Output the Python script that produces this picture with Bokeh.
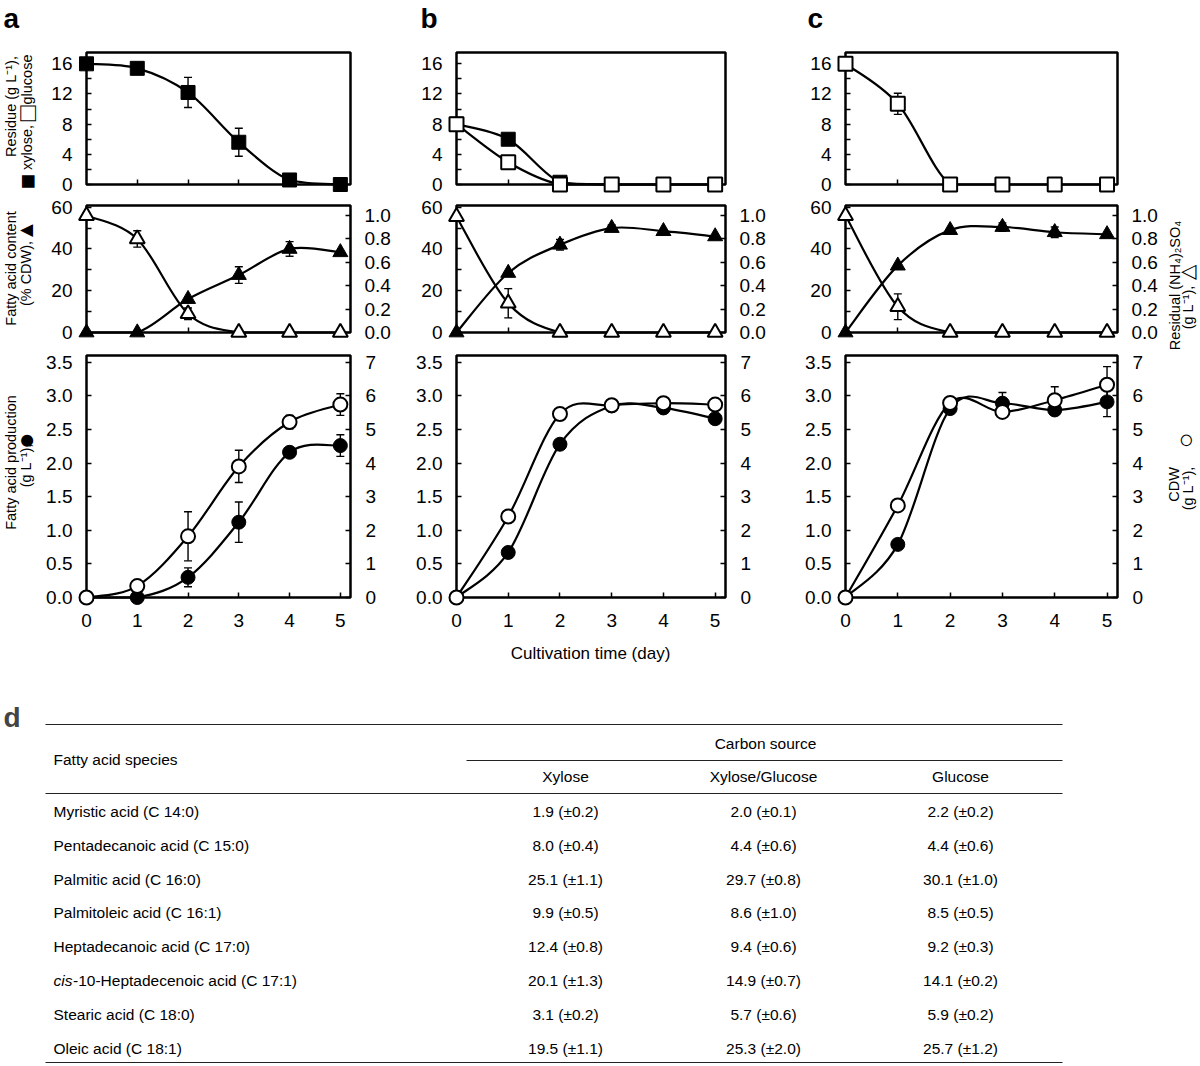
import math
from bokeh.plotting import figure
from bokeh.models import (Range1d, LinearAxis, FixedTicker, NumeralTickFormatter,
                          BoxAnnotation, Label)
from bokeh.layouts import column, row
from bokeh.embed import file_html
from bokeh.resources import INLINE
from bokeh.core.properties import value

FONT = "Liberation Sans"

# ---------------- data ----------------
days = [0, 1, 2, 3, 4, 5]

# residual sugars (g/L)
xylose_a = [16.0, 15.4, 12.2, 5.6, 0.6, 0.0]
xylose_a_err = [0, 0, 2.0, 1.85, 0, 0]
xylose_b = [8.0, 6.0, 0.3, 0.0, 0.0, 0.0]
xylose_b_err = [0, 0, 0, 0, 0, 0]
glucose_b = [8.0, 2.95, 0.0, 0.0, 0.0, 0.0]
glucose_b_err = [0, 0, 0, 0, 0, 0]
glucose_c = [16.0, 10.7, 0.0, 0.0, 0.0, 0.0]
glucose_c_err = [0, 1.4, 0, 0, 0, 0]

# fatty acid content (% CDW)
fac_a = [0.0, 0.0, 16.0, 27.5, 40.0, 38.4]
fac_a_err = [0, 0, 0, 4.0, 3.5, 0]
fac_b = [0.0, 28.5, 42.0, 50.0, 48.5, 46.0]
fac_b_err = [0, 0, 2.5, 1.5, 0, 0]
fac_c = [0.0, 32.0, 49.0, 50.5, 48.0, 47.0]
fac_c_err = [0, 0, 0, 2.0, 2.5, 0]

# residual (NH4)2SO4 (g/L)
nh4_a = [1.00, 0.80, 0.16, 0.0, 0.0, 0.0]
nh4_a_err = [0, 0.07, 0.05, 0, 0, 0]
nh4_b = [0.99, 0.25, 0.0, 0.0, 0.0, 0.0]
nh4_b_err = [0, 0.125, 0, 0, 0, 0]
nh4_c = [1.00, 0.22, 0.0, 0.0, 0.0, 0.0]
nh4_c_err = [0, 0.11, 0, 0, 0, 0]

# fatty acid production (g/L)
fap_a = [0.0, 0.0, 0.30, 1.12, 2.16, 2.26]
fap_a_err = [0, 0, 0.14, 0.30, 0, 0.16]
fap_b = [0.0, 0.67, 2.28, 2.85, 2.82, 2.66]
fap_b_err = [0, 0, 0, 0, 0, 0.07]
fap_c = [0.0, 0.79, 2.81, 2.89, 2.79, 2.91]
fap_c_err = [0, 0, 0, 0.16, 0, 0.22]

# CDW (g/L)
cdw_a = [0.0, 0.34, 1.82, 3.90, 5.22, 5.74]
cdw_a_err = [0, 0, 0.73, 0.48, 0.2, 0.32]
cdw_b = [0.0, 2.41, 5.46, 5.72, 5.78, 5.74]
cdw_b_err = [0, 0, 0, 0, 0, 0]
cdw_c = [0.0, 2.74, 5.79, 5.52, 5.87, 6.33]
cdw_c_err = [0, 0, 0, 0, 0.4, 0.54]

# axis ticks
top_ticks = [0, 4, 8, 12, 16]
top_minor = [2, 6, 10, 14]
mid_ticks = [0, 20, 40, 60]
mid_minor = [10, 30, 50]
mid_r_ticks = [0.0, 0.2, 0.4, 0.6, 0.8, 1.0]
bot_ticks = [0.0, 0.5, 1.0, 1.5, 2.0, 2.5, 3.0, 3.5]
bot_r_ticks = [0, 1, 2, 3, 4, 5, 6, 7]

# table (d)
species = ["Myristic acid (C 14:0)", "Pentadecanoic acid (C 15:0)",
           "Palmitic acid (C 16:0)", "Palmitoleic acid (C 16:1)",
           "Heptadecanoic acid (C 17:0)", "cis-10-Heptadecenoic acid (C 17:1)",
           "Stearic acid (C 18:0)", "Oleic acid (C 18:1)"]
tab_xylose = [1.9, 8.0, 25.1, 9.9, 12.4, 20.1, 3.1, 19.5]
tab_xylose_sd = [0.2, 0.4, 1.1, 0.5, 0.8, 1.3, 0.2, 1.1]
tab_mixed = [2.0, 4.4, 29.7, 8.6, 9.4, 14.9, 5.7, 25.3]
tab_mixed_sd = [0.1, 0.6, 0.8, 1.0, 0.6, 0.7, 0.6, 2.0]
tab_glucose = [2.2, 4.4, 30.1, 8.5, 9.2, 14.1, 5.9, 25.7]
tab_glucose_sd = [0.2, 0.6, 1.0, 0.5, 0.3, 0.2, 0.2, 1.2]
tab_headers = ["Xylose", "Xylose/Glucose", "Glucose"]

# ---------------- layout constants (page pixels) ----------------
XMAX = 5.2
COLS = [dict(x0=0, x1=403, left=86, w=264),
        dict(x0=403, x1=782, left=456, w=269),
        dict(x0=782, x1=1200, left=845, w=272)]
ROW_EDGES = {0: [0, 194, 343, 676], 1: [0, 194, 343, 676], 2: [0, 194, 353, 676]}
ROWS = [dict(top=52, h=132, ymax=17.5, ymax_r=None),
        dict(top=205, h=127, ymax=60.8, ymax_r=1.086),
        dict(top=355, h=242, ymax=3.6, ymax_r=7.2)]
TABLE_TOP, TABLE_H, TABLE_W = 676, 388, 1200
TICK_FS = "19px"


def bez_cols(xs, ys):
    """Smoothed (Catmull-Rom style) connecting curve; control points kept >= 0
    like a line clipped at the axis floor."""
    n = len(xs)
    out = {k: [] for k in ("x0", "y0", "x1", "y1", "cx0", "cy0", "cx1", "cy1")}
    for i in range(n - 1):
        ip = max(i - 1, 0)
        iq = min(i + 2, n - 1)
        out["x0"].append(xs[i]); out["y0"].append(ys[i])
        out["x1"].append(xs[i + 1]); out["y1"].append(ys[i + 1])
        out["cx0"].append(xs[i] + (xs[i + 1] - xs[ip]) / 6.0)
        out["cy0"].append(max(0.0, ys[i] + (ys[i + 1] - ys[ip]) / 6.0))
        out["cx1"].append(xs[i + 1] - (xs[iq] - xs[i]) / 6.0)
        out["cy1"].append(max(0.0, ys[i + 1] - (ys[iq] - ys[i]) / 6.0))
    return out


def style_axis(ax, standoff, show, ticks=None):
    ax.axis_line_color = None
    ax.major_tick_in = 5
    ax.major_tick_out = 0
    ax.minor_tick_in = 5
    ax.minor_tick_out = 0
    ax.major_tick_line_width = 1.5
    ax.minor_tick_line_width = 1.5
    ax.major_label_text_font = FONT
    ax.major_label_text_color = "black"
    ax.major_label_text_font_size = TICK_FS
    ax.major_label_standoff = standoff
    if not show:
        ax.major_label_overrides = {t: "" for t in ticks}
    ax.level = "underlay"


SIZES = {"square": 14, "triangle": 15, "circle": 14}


def panel(ci, ri, series):
    col = COLS[ci]
    rw = ROWS[ri]
    cy0, cy1 = ROW_EDGES[ci][ri], ROW_EDGES[ci][ri + 1]
    bottom = rw["top"] + rw["h"]

    def xd(px):
        return (px - col["left"]) / col["w"] * XMAX

    def yd(py, ymax):
        return (bottom - py) / rw["h"] * ymax

    p = figure(width=col["x1"] - col["x0"], height=cy1 - cy0,
               x_range=Range1d(xd(col["x0"]), xd(col["x1"])),
               y_range=Range1d(yd(cy1, rw["ymax"]), yd(cy0, rw["ymax"])),
               x_axis_location=None, y_axis_location=None, title=None,
               output_backend="svg", toolbar_location=None, min_border=0)
    p.outline_line_color = None
    p.grid.visible = False
    p.background_fill_color = "white"
    p.border_fill_color = "white"

    if rw["ymax_r"] is not None:
        p.extra_y_ranges = {"r": Range1d(yd(cy1, rw["ymax_r"]), yd(cy0, rw["ymax_r"]))}

    p.add_layout(BoxAnnotation(left=0, right=XMAX, bottom=0, top=rw["ymax"],
                               fill_color=None, fill_alpha=0, line_color="black",
                               line_alpha=1.0, line_width=2.5, level="underlay"))
    show_x = ri == 2
    xt_ticks = days if show_x else days[1:-1]
    xa = LinearAxis(ticker=FixedTicker(ticks=xt_ticks), fixed_location=0)
    style_axis(xa, 16, show_x, xt_ticks)
    p.add_layout(xa, "below")
    if ri == 0:
        la = LinearAxis(ticker=FixedTicker(ticks=top_ticks, minor_ticks=top_minor), fixed_location=0)
    elif ri == 1:
        la = LinearAxis(ticker=FixedTicker(ticks=mid_ticks, minor_ticks=mid_minor), fixed_location=0)
    else:
        la = LinearAxis(ticker=FixedTicker(ticks=bot_ticks), fixed_location=0,
                        formatter=NumeralTickFormatter(format="0.0"))
    style_axis(la, 14, True)
    p.add_layout(la, "left")
    if ri == 1:
        ra = LinearAxis(y_range_name="r", ticker=FixedTicker(ticks=mid_r_ticks),
                        formatter=NumeralTickFormatter(format="0.0"), fixed_location=XMAX)
        style_axis(ra, 14, True)
        p.add_layout(ra, "right")
    elif ri == 2:
        ra = LinearAxis(y_range_name="r", ticker=FixedTicker(ticks=bot_r_ticks), fixed_location=XMAX)
        style_axis(ra, 15, True)
        p.add_layout(ra, "right")

    for ys, errs, marker, filled, rng in series:
        kw = {} if rng is None else {"y_range_name": rng}
        ex = [x for x, e in zip(days, errs) if e > 0]
        lo = [y - e for y, e in zip(ys, errs) if e > 0]
        hi = [y + e for y, e in zip(ys, errs) if e > 0]
        if ex:
            p.segment(x0=ex, y0=lo, x1=ex, y1=hi, line_color="black", line_width=1.4, **kw)
            p.scatter(x=ex + ex, y=lo + hi, marker="dash", size=8,
                      line_color="black", line_width=1.4, **kw)
        p.bezier(**bez_cols(days, ys), line_color="black", line_width=2.2, **kw)
    for ys, errs, marker, filled, rng in series:
        kw = {} if rng is None else {"y_range_name": rng}
        p.scatter(x=days, y=ys, marker=marker, size=SIZES[marker],
                  fill_color="black" if filled else "white", line_color="black",
                  line_width=1 if filled else 2, **kw)

    def to_data(px, py):
        return xd(px), yd(py, rw["ymax"])

    return p, to_data


def add_label(p, to_data, px, py, text, size="14.5px", angle=0.0, align="center",
              bold=False):
    x, y = to_data(px, py)
    p.add_layout(Label(x=x, y=y, text=text, angle=angle, text_align=align,
                       text_baseline="middle", text_font=FONT, text_font_size=size,
                       text_font_style="bold" if bold else "normal", text_color="black"))


col_series = {
    0: [
        [(xylose_a, xylose_a_err, "square", True, None)],
        [(fac_a, fac_a_err, "triangle", True, None), (nh4_a, nh4_a_err, "triangle", False, "r")],
        [(fap_a, fap_a_err, "circle", True, None), (cdw_a, cdw_a_err, "circle", False, "r")],
    ],
    1: [
        [(xylose_b, xylose_b_err, "square", True, None), (glucose_b, glucose_b_err, "square", False, None)],
        [(fac_b, fac_b_err, "triangle", True, None), (nh4_b, nh4_b_err, "triangle", False, "r")],
        [(fap_b, fap_b_err, "circle", True, None), (cdw_b, cdw_b_err, "circle", False, "r")],
    ],
    2: [
        [(glucose_c, glucose_c_err, "square", False, None)],
        [(fac_c, fac_c_err, "triangle", True, None), (nh4_c, nh4_c_err, "triangle", False, "r")],
        [(fap_c, fap_c_err, "circle", True, None), (cdw_c, cdw_c_err, "circle", False, "r")],
    ],
}

figs = {}
conv = {}
for ci in range(3):
    for ri in range(3):
        figs[(ci, ri)], conv[(ci, ri)] = panel(ci, ri, col_series[ci][ri])

R90 = math.pi / 2
SYM_SQ = "26px"
SYM_TRI = "22px"
for ci, (txt, px) in enumerate([("a", 3), ("b", 420), ("c", 807)]):
    add_label(figs[(ci, 0)], conv[(ci, 0)], px, 18, txt, size="28px", align="left", bold=True)

# y titles, panel a
fa = figs[(0, 0)]; ca = conv[(0, 0)]
add_label(fa, ca, 10, 106, "Residue (g L\u207b\u00b9),", angle=R90)
add_label(fa, ca, 26, 181, "\u25a0", size=SYM_SQ, angle=R90)
add_label(fa, ca, 26, 147, "xylose,", angle=R90)
add_label(fa, ca, 26, 113, "\u25a1", size=SYM_SQ, angle=R90)
add_label(fa, ca, 26, 79, "glucose", angle=R90)
fa = figs[(0, 1)]; ca = conv[(0, 1)]
add_label(fa, ca, 10, 268, "Fatty acid content", angle=R90)
add_label(fa, ca, 25, 273, "(% CDW),", angle=R90)
add_label(fa, ca, 25, 230, "\u25b2", size=SYM_TRI, angle=R90)
fa = figs[(0, 2)]; ca = conv[(0, 2)]
add_label(fa, ca, 10, 462, "Fatty acid production", angle=R90)
add_label(fa, ca, 25, 465, "(g L\u207b\u00b9),", angle=R90)
add_label(fa, ca, 25, 440, "\u25cf", size="28px", angle=R90)
# right titles, panel c
fc = figs[(2, 1)]; cc = conv[(2, 1)]
add_label(fc, cc, 1174, 285, "Residual (NH\u2084)\u2082SO\u2084", angle=R90)
add_label(fc, cc, 1187, 307, "(g L\u207b\u00b9),", angle=R90)
add_label(fc, cc, 1186, 272, "\u25b3", size="20px", angle=R90)
fc = figs[(2, 2)]; cc = conv[(2, 2)]
add_label(fc, cc, 1173, 484, "CDW", angle=R90)
add_label(fc, cc, 1187, 488, "(g L\u207b\u00b9),", angle=R90)
add_label(fc, cc, 1184, 440, "\u25cb", size="26px", angle=R90)
add_label(figs[(1, 2)], conv[(1, 2)], 590, 653, "Cultivation time (day)", size="17px")

# ---------------- table (d) ----------------
t = figure(width=TABLE_W, height=TABLE_H, x_range=Range1d(0, TABLE_W),
           y_range=Range1d(TABLE_TOP + TABLE_H, TABLE_TOP),
           x_axis_location=None, y_axis_location=None, title=None, min_border=0,
           output_backend="svg", toolbar_location=None)
t.outline_line_color = None
t.grid.visible = False
t.add_layout(Label(x=3, y=717, text="d", text_font=FONT, text_font_size="28px",
                   text_font_style="bold", text_baseline="middle", text_align="left"))

RULE_L, RULE_R, SUB_L = 45, 1062, 466
t.segment(x0=[RULE_L, SUB_L, RULE_L, RULE_L], y0=[724, 760, 793, 1062],
          x1=[RULE_R, RULE_R, RULE_R, RULE_R], y1=[724, 760, 793, 1062],
          line_color="#222222", line_width=1.2)

TFS = value("15.5px")
col_x = [565, 763, 960]
t.text(x=[53], y=[759], text=["Fatty acid species"], text_font=value(FONT), text_font_size=TFS,
       text_baseline="middle", text_align="left", text_color="black")
t.text(x=[765], y=[743], text=["Carbon source"], text_font=value(FONT), text_font_size=TFS,
       text_baseline="middle", text_align="center", text_color="black")
t.text(x=col_x, y=[776] * 3, text=tab_headers, text_font=value(FONT), text_font_size=TFS,
       text_baseline="middle", text_align="center", text_color="black")

ROW_Y0, ROW_DY = 811, 33.8
row_y = [ROW_Y0 + ROW_DY * i for i in range(len(species))]
ital = [s.split("-", 1)[0] if s.startswith("cis-") else "" for s in species]
rest = [s[len(i):] for s, i in zip(species, ital)]
offs = [19.5 if i else 0 for i in ital]
t.text(x=[53] * len(rest), y=row_y, text=rest, x_offset=offs, text_font=value(FONT),
       text_font_size=TFS, text_baseline="middle", text_align="left", text_color="black")
iy = [y for y, i in zip(row_y, ital) if i]
it = [i for i in ital if i]
t.text(x=[53] * len(it), y=iy, text=it, text_font=value(FONT), text_font_style="italic",
       text_font_size=TFS, text_baseline="middle", text_align="left", text_color="black")

for cx, vals, sds in zip(col_x, [tab_xylose, tab_mixed, tab_glucose],
                         [tab_xylose_sd, tab_mixed_sd, tab_glucose_sd]):
    txt = [f"{v:.1f} (\u00b1{s:.1f})" for v, s in zip(vals, sds)]
    t.text(x=[cx] * len(txt), y=row_y, text=txt, text_font=value(FONT), text_font_size=TFS,
           text_baseline="middle", text_align="center", text_color="black")

layout = column(
    row(column(figs[(0, 0)], figs[(0, 1)], figs[(0, 2)]),
        column(figs[(1, 0)], figs[(1, 1)], figs[(1, 2)]),
        column(figs[(2, 0)], figs[(2, 1)], figs[(2, 2)])),
    t,
)

open("out.html", "w").write(file_html(layout, INLINE))
